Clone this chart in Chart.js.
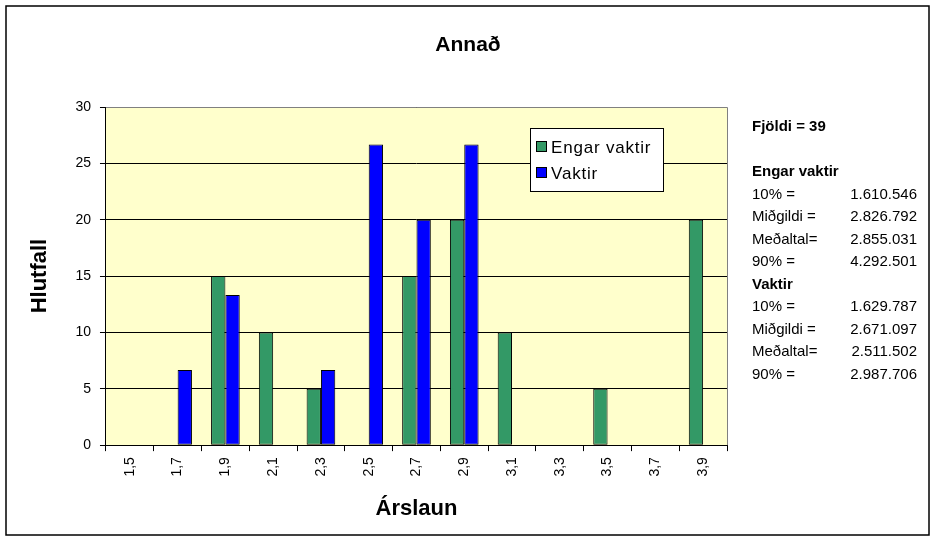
<!DOCTYPE html>
<html>
<head>
<meta charset="utf-8">
<script src="https://cdn.jsdelivr.net/npm/chart.js@4/dist/chart.umd.min.js"></script>
<style>
    html, body { margin: 0; padding: 0; background: #fff; }
    #wrap { width: 935px; height: 542px; position: relative; }
</style>
</head>
<body>
<div id="wrap"><canvas id="chart"></canvas></div>
<script>
(function () {
    "use strict";

    // Data
    const categories = ["1,5", "1,7", "1,9", "2,1", "2,3", "2,5", "2,7", "2,9", "3,1", "3,3", "3,5", "3,7", "3,9"];
    const engarVaktir = [0, 0, 15, 10, 5, 0, 15, 20, 10, 0, 5, 0, 20];
    const vaktir = [0, 6.67, 13.33, 0, 6.67, 26.67, 20, 26.67, 0, 0, 0, 0, 0];
    const seriesNames = ["Engar vaktir", "Vaktir"];
    const yTicks = [0, 5, 10, 15, 20, 25, 30];

    const chartTitle = "Annað";
    const statsHeader = "Fjöldi = 39";
    const statsEngar = [["10% =", "1.610.546"], ["Miðgildi =", "2.826.792"], ["Meðaltal=", "2.855.031"], ["90% =", "4.292.501"]];
    const statsVaktir = [["10% =", "1.629.787"], ["Miðgildi =", "2.671.097"], ["Meðaltal=", "2.511.502"], ["90% =", "2.987.706"]];

    const FONT = "Arial, 'Liberation Sans', sans-serif";

    // Plot background, frame, title, legend and side text
    const decor = {
        id: "decor",
        beforeDraw(chart) {
            const { ctx, chartArea: a } = chart;
            ctx.save();
            ctx.fillStyle = "#ffffcc";
            ctx.fillRect(a.left, a.top, a.right - a.left, a.bottom - a.top);
            ctx.restore();
        },
        afterDraw(chart) {
            const { ctx, chartArea: a } = chart;
            ctx.save();
            // plot border (right / top)
            ctx.strokeStyle = "#808080";
            ctx.lineWidth = 1;
            ctx.beginPath();
            ctx.moveTo(a.left, a.top + 0.5);
            ctx.lineTo(a.right + 0.5, a.top + 0.5);
            ctx.lineTo(a.right + 0.5, a.bottom);
            ctx.stroke();

            // outer frame
            ctx.strokeStyle = "#000";
            ctx.lineWidth = 1.5;
            ctx.strokeRect(6, 6, 923, 529);

            // title
            ctx.fillStyle = "#000";
            ctx.font = "bold 21px " + FONT;
            ctx.textAlign = "center";
            ctx.textBaseline = "middle";
            ctx.fillText(chartTitle, 468, 45);

            // legend
            const lx = 530, ly = 128, lw = 133, lh = 63;
            ctx.textAlign = "left";
            ctx.fillStyle = "#fff";
            ctx.fillRect(lx, ly, lw, lh);
            ctx.strokeStyle = "#000";
            ctx.lineWidth = 1;
            ctx.strokeRect(lx + 0.5, ly + 0.5, lw, lh);
            ctx.font = "17px " + FONT;
            ctx.letterSpacing = "0.8px";
            chart.data.datasets.forEach((ds, i) => {
                const y = ly + 19 + i * 26;
                ctx.fillStyle = ds.backgroundColor;
                ctx.fillRect(lx + 6.5, y - 5.5, 10, 10);
                ctx.strokeStyle = "#000";
                ctx.strokeRect(lx + 6.5, y - 5.5, 10, 10);
                ctx.fillStyle = "#000";
                ctx.fillText(ds.label, lx + 21, y + 1);
            });
            ctx.letterSpacing = "0px";

            // stats text
            const tx = 752, vx = 917;
            ctx.fillStyle = "#000";
            ctx.font = "bold 15px " + FONT;
            ctx.fillText(statsHeader, tx, 127);
            let y = 172;
            const step = 22.5;
            [[seriesNames[0], statsEngar], [seriesNames[1], statsVaktir]].forEach(([name, rows]) => {
                ctx.font = "bold 15px " + FONT;
                ctx.textAlign = "left";
                ctx.fillText(name, tx, y);
                y += step;
                ctx.font = "15px " + FONT;
                rows.forEach(([label, value]) => {
                    ctx.textAlign = "left";
                    ctx.fillText(label, tx, y);
                    ctx.textAlign = "right";
                    ctx.fillText(value, vx, y);
                    y += step;
                });
            });
            ctx.restore();
        },
    };

    const ctx = document.getElementById("chart").getContext("2d");
    new Chart(ctx, {
        type: "bar",
        data: {
            labels: categories,
            datasets: [
                {
                    label: seriesNames[0],
                    data: engarVaktir,
                    backgroundColor: "#339966",
                    borderColor: "#000",
                    borderWidth: 1,
                    borderSkipped: false,
                    barPercentage: 1,
                    categoryPercentage: 0.6,
                },
                {
                    label: seriesNames[1],
                    data: vaktir,
                    backgroundColor: "#0000ff",
                    borderColor: "#000",
                    borderWidth: 1,
                    borderSkipped: false,
                    barPercentage: 1,
                    categoryPercentage: 0.6,
                },
            ],
        },
        options: {
            responsive: true,
            maintainAspectRatio: false,
            animation: false,
            layout: {
                padding: { left: 27, right: 208, top: 107, bottom: 20 },
            },
            plugins: {
                legend: { display: false },
                tooltip: { enabled: false },
                title: { display: false },
            },
            scales: {
                x: {
                    grid: {
                        offset: true,
                        drawOnChartArea: false,
                        drawTicks: true,
                        tickLength: 6,
                        color: "#000",
                    },
                    border: { color: "#000", width: 1 },
                    ticks: {
                        color: "#000",
                        font: { family: FONT, size: 14 },
                        minRotation: 90,
                        maxRotation: 90,
                        padding: 6,
                    },
                    title: {
                        display: true,
                        text: "Árslaun",
                        color: "#000",
                        font: { family: FONT, size: 22, weight: "bold" },
                        padding: { top: 13, bottom: 0 },
                    },
                },
                y: {
                    min: 0,
                    max: 30,
                    afterBuildTicks: (axis) => {
                        axis.ticks = yTicks.map((v) => ({ value: v }));
                    },
                    grid: {
                        color: "#000",
                        tickLength: 6,
                        lineWidth: 1,
                    },
                    border: { color: "#000", width: 1 },
                    ticks: {
                        color: "#000",
                        font: { family: FONT, size: 14 },
                        padding: 9,
                    },
                    title: {
                        display: true,
                        text: "Hlutfall",
                        color: "#000",
                        font: { family: FONT, size: 22, weight: "bold" },
                        padding: { top: 0, bottom: 13 },
                    },
                },
            },
        },
        plugins: [decor],
    });
})();
</script>
</body>
</html>
